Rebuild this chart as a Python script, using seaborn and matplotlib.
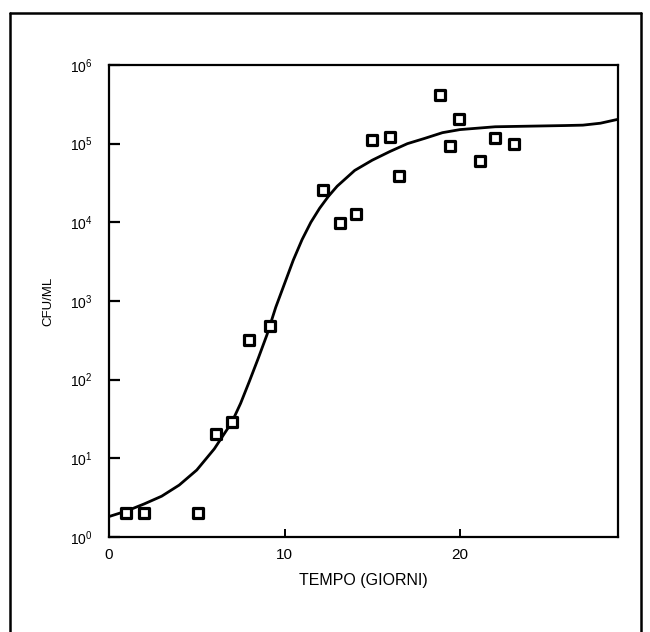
import numpy as np
import pandas as pd
import matplotlib
matplotlib.use("Agg")
import matplotlib.pyplot as plt
from matplotlib.lines import Line2D
import matplotlib.ticker as mticker
import seaborn as sns

# Measured data points (day, CFU/ml)
days = [0.97, 2.0, 5.07, 6.1, 7.0, 8.0, 9.17, 12.2, 13.16, 14.1, 15.0, 16.0,
        16.55, 18.88, 19.4, 19.94, 21.15, 22.02, 23.06]
cfu = [2.0, 2.0, 2.0, 20.3, 28.6, 315, 484, 26000, 9800, 12700, 110000, 122000,
       39000, 420000, 93000, 203000, 60000, 118000, 100000]

# Fitted growth curve
curve_days = [0, 1, 2, 3, 4, 5, 6, 7, 7.5, 8, 8.5, 9, 9.5, 10, 10.5, 11, 11.5,
              12, 12.5, 13, 14, 15, 16, 17, 18, 19, 20, 22, 24, 26, 27, 28, 29]
curve_cfu = [1.82, 2.14, 2.63, 3.3, 4.57, 7.1, 13.2, 28.8, 50.1, 95.5, 186, 372,
             832, 1660, 3310, 6030, 10000, 15100, 21400, 28800, 45700, 61700,
             79400, 100000, 117000, 138000, 151000, 164000, 167000, 170000,
             172000, 182000, 204000]

xticks = [0, 10, 20]
yticks = [1, 10, 100, 1000, 10000, 100000, 1000000]

sns.set_style("white")
plt.rcParams['font.family'] = ['Liberation Sans', 'DejaVu Sans']
plt.rcParams['mathtext.fontset'] = 'custom'
plt.rcParams['mathtext.rm'] = 'Liberation Sans'
plt.rcParams['mathtext.it'] = 'Liberation Sans'
plt.rcParams['mathtext.bf'] = 'Liberation Sans'
plt.rcParams['text.color'] = 'black'
plt.rcParams['axes.labelcolor'] = 'black'
plt.rcParams['xtick.color'] = 'black'
plt.rcParams['ytick.color'] = 'black'

fig = plt.figure(figsize=(6.5, 6.32), dpi=100)
ax = fig.add_axes([109/650, 1-537/632, (618-109)/650, (537-65)/632])

pts = pd.DataFrame({"days": days, "cfu": cfu})
crv = pd.DataFrame({"days": curve_days, "cfu": curve_cfu})

sns.lineplot(data=crv, x="days", y="cfu", ax=ax, color="black", linewidth=2.0,
             sort=True, estimator=None)
sns.scatterplot(data=pts, x="days", y="cfu", ax=ax, marker="s", s=55,
                facecolor="white", edgecolor="black", linewidth=2.3, zorder=5)

ax.set_yscale("log")
ax.set_xlim(0, 29)
ax.set_ylim(1, 1e6)
ax.set_xticks(xticks)
ax.set_yticks(yticks)
ax.yaxis.set_minor_locator(mticker.NullLocator())
ax.yaxis.set_major_formatter(mticker.FuncFormatter(
    lambda v, p: r"$\mathdefault{10^{%d}}$" % int(round(np.log10(v)))))

for s in ax.spines.values():
    s.set_linewidth(1.6)
    s.set_color("black")

ax.tick_params(axis="y", direction="in", length=8, width=1.6, labelsize=10,
               pad=12, left=True, labelcolor="black")
ax.tick_params(axis="x", direction="in", length=6, width=1.4, labelsize=11,
               pad=8, bottom=True, labelcolor="black")

ax.set_xlabel("TEMPO (GIORNI)", fontsize=11.5, labelpad=8, color="black")
ax.set_ylabel("CFU/ML", fontsize=9.5, labelpad=11, color="black")

# outer frame (top, left, right)
fig.add_artist(Line2D([10/650, 10/650], [0, 1-13/632], color="black", lw=1.8,
                      transform=fig.transFigure))
fig.add_artist(Line2D([10/650, 641/650], [1-13/632, 1-13/632], color="black",
                      lw=1.8, transform=fig.transFigure))
fig.add_artist(Line2D([641/650, 641/650], [0, 1-13/632], color="black", lw=1.8,
                      transform=fig.transFigure))

fig.savefig("out.png", dpi=100)
